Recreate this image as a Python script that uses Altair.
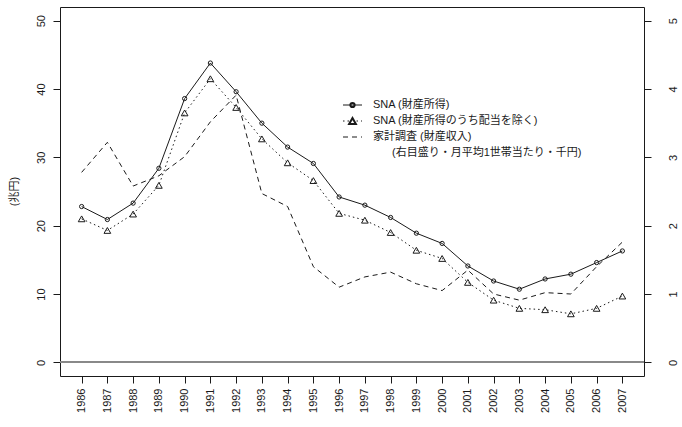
import altair as alt
import pandas as pd

years = list(range(1986, 2008))
sna = [22.8, 20.9, 23.3, 28.4, 38.6, 43.8, 39.6, 35.0, 31.5, 29.1, 24.2, 23.0,
       21.2, 18.9, 17.4, 14.1, 11.9, 10.7, 12.2, 12.9, 14.6, 16.3]
sna_ex_div = [21.0, 19.3, 21.7, 25.9, 36.5, 41.5, 37.3, 32.7, 29.2, 26.6, 21.8, 20.8,
              19.0, 16.4, 15.2, 11.7, 9.1, 7.9, 7.7, 7.1, 7.9, 9.7]
household = [2.78, 3.22, 2.58, 2.73, 3.01, 3.52, 3.91, 2.47, 2.28, 1.40, 1.10, 1.25,
             1.32, 1.15, 1.05, 1.35, 1.00, 0.91, 1.02, 1.00, 1.40, 1.76]

left_ticks = [0, 10, 20, 30, 40, 50]
right_ticks = [0, 1, 2, 3, 4, 5]
y_title = "(兆円)"
legend_labels = ["SNA (財産所得)", "SNA (財産所得のうち配当を除く)", "家計調査 (財産収入)"]
legend_note = "(右目盛り・月平均1世帯当たり・千円)"

df = pd.DataFrame({"year": years, "sna": sna, "ex": sna_ex_div, "hh": household})

FONT = "Liberation Sans, Arial, Helvetica, sans-serif"
JFONT = "Liberation Sans, Noto Sans CJK JP, sans-serif"
INK = "#1a1a1a"

xscale = alt.Scale(domain=[1985.16, 2007.84], nice=False, zero=False)
xaxis = alt.Axis(values=years, format="d", labelAngle=270, labelAlign="right",
                 labelBaseline="middle", grid=False, domain=False, tickSize=7,
                 tickColor=INK, labelPadding=5, labelFontSize=11, labelFont=FONT,
                 labelColor=INK, title=None, labelOverlap=False)
yL = alt.Scale(domain=[-2, 52], nice=False, zero=False)
yR = alt.Scale(domain=[-0.2, 5.2], nice=False, zero=False)
left_axis = alt.Axis(values=left_ticks, grid=False, domain=False, tickSize=7,
                     tickColor=INK, labelAngle=270, labelAlign="center",
                     labelBaseline="bottom", labelPadding=7, labelFontSize=11,
                     labelFont=FONT, labelColor=INK, title=y_title,
                     titleFont=JFONT, titleFontSize=11, titleFontWeight="normal",
                     titleColor=INK, titleAngle=270, titleX=-46, titleY=184,
                     titleAlign="center", titleBaseline="middle")
right_axis = alt.Axis(values=right_ticks, grid=False, domain=False, tickSize=7,
                      tickColor=INK, labelAngle=270, labelAlign="center",
                      labelBaseline="top", labelPadding=16, labelFontSize=11,
                      labelFont=FONT, labelColor=INK, title=None, orient="right")

X = alt.X("year:Q", scale=xscale, axis=xaxis)
base = alt.Chart(df)

zero = base.mark_rule(color="#8a8a8a", strokeWidth=1).encode(
    y=alt.datum(0, scale=yL, axis=left_axis))
sna_line = base.mark_line(color=INK, strokeWidth=1).encode(
    x=X, y=alt.Y("sna:Q", scale=yL, axis=left_axis))
sna_pts = base.mark_point(shape="circle", size=18, filled=False, color=INK,
                          opacity=1, strokeWidth=1).encode(
    x=X, y=alt.Y("sna:Q", scale=yL, axis=left_axis))
ex_line = base.mark_line(color=INK, strokeWidth=1, strokeDash=[1.5, 3]).encode(
    x=X, y=alt.Y("ex:Q", scale=yL, axis=left_axis))
ex_pts = base.mark_point(shape="triangle-up", size=45, filled=False, color=INK,
                         opacity=1, strokeWidth=1).encode(
    x=X, y=alt.Y("ex:Q", scale=yL, axis=left_axis))

# legend (pixel positions relative to the plot area)
one = alt.Chart(pd.DataFrame({"k": [0]}))
leg_y = [98, 114, 130]
lx0, lx1, lxm, ltx = 283, 302, 292.5, 313
leg = [
    one.mark_rule(color=INK, strokeWidth=1).encode(
        x=alt.value(lx0), x2=alt.value(lx1), y=alt.value(leg_y[0])),
    one.mark_point(shape="circle", size=18, filled=False, color=INK,
                   opacity=1).encode(x=alt.value(lxm), y=alt.value(leg_y[0])),
    one.mark_rule(color=INK, strokeWidth=1, strokeDash=[1.5, 3]).encode(
        x=alt.value(lx0), x2=alt.value(lx1), y=alt.value(leg_y[1])),
    one.mark_point(shape="triangle-up", size=45, filled=False, color=INK,
                   fill="white", fillOpacity=1, opacity=1).encode(
        x=alt.value(lxm), y=alt.value(leg_y[1])),
    one.mark_rule(color=INK, strokeWidth=1, strokeDash=[5, 4]).encode(
        x=alt.value(lx0), x2=alt.value(lx1), y=alt.value(leg_y[2])),
]
for lbl, yy in zip(legend_labels, leg_y):
    leg.append(one.mark_text(align="left", baseline="middle", font=JFONT,
                             fontSize=11, color=INK).encode(
        x=alt.value(ltx), y=alt.value(yy), text=alt.value(lbl)))
leg.append(one.mark_text(align="left", baseline="middle", font=JFONT,
                         fontSize=11, color=INK).encode(
    x=alt.value(332), y=alt.value(146), text=alt.value(legend_note)))

left = alt.layer(zero, sna_line, sna_pts, ex_line, ex_pts, *leg)
right = base.mark_line(color=INK, strokeWidth=1, strokeDash=[5, 4]).encode(
    x=X, y=alt.Y("hh:Q", scale=yR, axis=right_axis))

chart = alt.layer(left, right).resolve_scale(y="independent").properties(
    width=584, height=369,
    autosize=alt.AutoSizeParams(type="none"),
    padding={"left": 60, "top": 7, "right": 38, "bottom": 51},
    background="white",
).configure_view(stroke=INK, strokeWidth=1)

chart.save("out.html", embed_options={"renderer": "svg", "actions": False})
